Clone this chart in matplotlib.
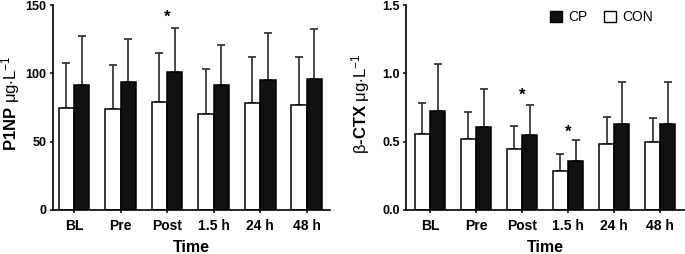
import matplotlib
matplotlib.use("Agg")
import matplotlib.pyplot as plt
import numpy as np
from matplotlib.patches import Patch

plt.rcParams['font.family'] = ['Liberation Sans', 'DejaVu Sans']
plt.rcParams['mathtext.fontset'] = 'custom'
plt.rcParams['mathtext.rm'] = 'Liberation Sans'
plt.rcParams['mathtext.bf'] = 'Liberation Sans:bold'
plt.rcParams['mathtext.it'] = 'Liberation Sans:italic'

categories = ["BL", "Pre", "Post", "1.5 h", "24 h", "48 h"]

p1np_con = [74.4, 73.9, 79.3, 70.0, 78.3, 77.0]
p1np_con_err = [33.0, 32.5, 35.4, 33.0, 33.9, 34.7]
p1np_cp = [91.7, 93.5, 101.0, 91.7, 95.0, 95.9]
p1np_cp_err = [35.7, 31.7, 32.0, 29.1, 34.6, 36.4]
p1np_stars = ["Post"]

ctx_con = [0.556, 0.519, 0.449, 0.288, 0.485, 0.497]
ctx_con_err = [0.224, 0.200, 0.163, 0.119, 0.198, 0.178]
ctx_cp = [0.722, 0.610, 0.551, 0.358, 0.629, 0.629]
ctx_cp_err = [0.344, 0.277, 0.219, 0.154, 0.307, 0.307]
ctx_stars = ["Post", "1.5 h"]

fig = plt.figure(figsize=(6.85, 2.54), dpi=100)
axL = fig.add_axes([53/685, 1-210/254, 277/685, 205/254])
axR = fig.add_axes([406/685, 1-210/254, 279/685, 205/254])

w = 0.33
x = np.arange(len(categories))
ecol = '#2a2a2a'

def draw(ax, con, con_err, cp, cp_err, ymax, yticks, yfmt, stars, star_y, ylabel, xlim, labx):
    ax.bar(x - w/2, con, w, color='white', edgecolor='black', linewidth=1.1, zorder=2)
    ax.bar(x + w/2, cp, w, color='#111111', edgecolor='black', linewidth=1.1, zorder=2)
    ax.errorbar(x - w/2, con, yerr=[np.zeros(len(con)), con_err], fmt='none',
                ecolor=ecol, elinewidth=1.2, capsize=2.6, capthick=1.2, zorder=1)
    ax.errorbar(x + w/2, cp, yerr=[np.zeros(len(cp)), cp_err], fmt='none',
                ecolor=ecol, elinewidth=1.2, capsize=2.6, capthick=1.2, zorder=1)
    ax.set_ylim(0, ymax)
    ax.set_xlim(*xlim)
    ax.set_yticks(yticks)
    ax.set_yticklabels([yfmt.format(v) for v in yticks], fontsize=9, fontweight='bold')
    ax.set_xticks(x)
    ax.set_xticklabels(categories, fontsize=10, fontweight='bold')
    for s in ['top', 'right']:
        ax.spines[s].set_visible(False)
    for s in ['left', 'bottom']:
        ax.spines[s].set_linewidth(1.2)
    ax.tick_params(axis='y', length=2.5, width=1.1, pad=2)
    ax.tick_params(axis='x', length=2.5, width=1.1, pad=4)
    ax.set_xlabel("Time", fontsize=11.5, fontweight='bold')
    ax.xaxis.set_label_coords(0.5, -0.145)
    ax.set_ylabel(ylabel, fontsize=12)
    ax.yaxis.set_label_coords(labx, 0.52)
    for s, sy in zip(stars, star_y):
        i = categories.index(s)
        ax.text(i, sy, "*", ha='center', va='baseline', fontsize=12, fontweight='bold')

draw(axL, p1np_con, p1np_con_err, p1np_cp, p1np_cp_err, 150, [0, 50, 100, 150], "{:.0f}",
     p1np_stars, [138.0], r"$\mathbf{P1NP}\ \mathrm{μg{\cdot}L}^{\mathrm{-1}}$", (-0.45, 5.5), -0.112)
draw(axR, ctx_con, ctx_con_err, ctx_cp, ctx_cp_err, 1.5, [0.0, 0.5, 1.0, 1.5], "{:.1f}",
     ctx_stars, [0.805, 0.537], r"$\mathrm{β}\mathbf{‐CTX}\ \mathrm{μg{\cdot}L}^{\mathrm{-1}}$", (-0.52, 5.54), -0.122)

handles = [Patch(facecolor='#111111', edgecolor='black', linewidth=1.0),
           Patch(facecolor='white', edgecolor='black', linewidth=1.0)]
fig.legend(handles, ["CP", "CON"], loc='center left', bbox_to_anchor=(550/685, 1-17/254),
           ncol=2, frameon=False, fontsize=10, handlelength=0.86, handleheight=0.86,
           handletextpad=0.45, columnspacing=1.2, borderpad=0, borderaxespad=0)

fig.savefig("out.png", dpi=100)
